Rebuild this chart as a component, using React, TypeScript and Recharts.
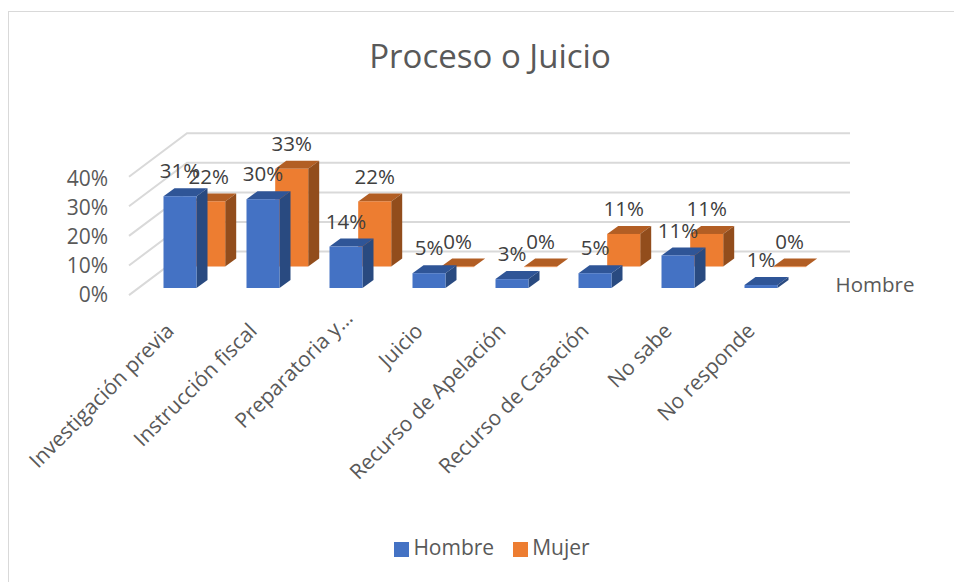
import React from 'react';
import { BarChart, Bar, XAxis, YAxis, ReferenceLine, LabelList, Legend } from 'recharts';

const categories = ['Investigación previa', 'Instrucción fiscal', 'Preparatoria y…', 'Juicio', 'Recurso de Apelación', 'Recurso de Casación', 'No sabe', 'No responde'];
const hombre = [0.31, 0.30, 0.14, 0.05, 0.03, 0.05, 0.11, 0.01];
const mujer = [0.22, 0.33, 0.22, 0, 0, 0.11, 0.11, 0];
const yTicks = [0, 0.1, 0.2, 0.3, 0.4];
const wallLines = [0, 0.1, 0.2, 0.3, 0.4];
const wallBase = 0.123;

const data = categories.map((name, i) => ({ name, Hombre: hombre[i], Mujer: mujer[i] }));

const FONT = '"Open Sans", "Noto Sans", sans-serif';
const DX = 11;
const DY = 8;

const Box3D = (top: string, side: string) => (props: any) => {
  const { x, y, width, height, fill } = props;
  const b = y + height;
  const r = x + width;
  return (
    <g>
      <path d={`M${x},${y} L${x + DX},${y - DY} L${r + DX},${y - DY} L${r},${y} Z`} fill={top} />
      <path d={`M${r},${y} L${r + DX},${y - DY} L${r + DX},${b - DY} L${r},${b} Z`} fill={side} />
      <rect x={x} y={y} width={width} height={Math.max(height, 0.6)} fill={fill} />
    </g>
  );
};

const valueLabel = (props: any) => {
  const { x, y, width, value } = props;
  return (
    <text x={x + width / 2} y={y - 25} dy="0.35em" textAnchor="middle" fontFamily={FONT} fontSize={20.5} fill="#404040">
      {`${Math.round(value * 100)}%`}
    </text>
  );
};

const WallLine = (props: any) => {
  const { x1, x2, y1 } = props;
  const backX = x1 + 58;
  return (
    <path d={`M${x1},${y1 + 43.5} L${backX},${y1} L${x2},${y1}`} fill="none" stroke="#D9D9D9" strokeWidth={2} />
  );
};

const YTick = (props: any) => {
  const { x, y, payload } = props;
  const cy = 295 - (288 - y) * 0.98;
  return (
    <text x={x} y={cy} dy="0.35em" textAnchor="end" fontFamily={FONT} fontSize={21} fill="#595959">
      {`${Math.round(payload.value * 100)}%`}
    </text>
  );
};

const XTick = (props: any) => {
  const { x, payload } = props;
  return (
    <text
      transform={`translate(${x - 10},327) rotate(-45)`}
      dx={String(payload.value).endsWith('…') ? 18 : 0}
      dy="0.35em"
      textAnchor="end"
      fontFamily={FONT}
      fontSize={21}
      fill="#595959"
    >
      {payload.value}
    </text>
  );
};

export default function App() {
  return (
    <div style={{ position: 'absolute', left: 0, top: 0, width: 954, height: 582, overflow: 'hidden', background: '#fff' }}>
      <div style={{ position: 'absolute', left: 8, top: 11, right: -4, bottom: -4, border: '1.5px solid #D9D9D9' }} />
      <BarChart
        width={954}
        height={582}
        data={data}
        margin={{ top: 133, right: 104, bottom: 164, left: 69 }}
        style={{ position: 'absolute', left: 0, top: 0 }}
      >
        <XAxis xAxisId="h" dataKey="name" height={100} axisLine={false} tickLine={false} interval={0} padding={{ left: 9.5, right: 47.5 }} tick={<XTick />} />
        <XAxis xAxisId="m" dataKey="name" hide padding={{ left: 38.2, right: 18.8 }} />
        <YAxis yAxisId="h" width={60} domain={[0, 0.5236]} ticks={yTicks} axisLine={false} tickLine={false} tickSize={0} tickMargin={21} tick={<YTick />} />
        <YAxis yAxisId="m" hide domain={[-0.0726, 0.451]} />
        {wallLines.map((v) => (
          <ReferenceLine key={v} xAxisId="h" yAxisId="h" y={v + wallBase} shape={<WallLine />} ifOverflow="visible" zIndex={-100} />
        ))}
        <Bar xAxisId="m" yAxisId="m" dataKey="Mujer" barSize={33} fill="#ED7D31" isAnimationActive={false} shape={Box3D('#B25E24', '#924D1C')}>
          <LabelList dataKey="Mujer" content={valueLabel} />
        </Bar>
        <Bar xAxisId="h" yAxisId="h" dataKey="Hombre" barSize={33} fill="#4472C4" isAnimationActive={false} shape={Box3D('#2F5597', '#294A80')}>
          <LabelList dataKey="Hombre" content={valueLabel} />
        </Bar>
        <Legend
          verticalAlign="bottom"
          height={30}
          iconType="square"
          iconSize={15}
          wrapperStyle={{ fontFamily: FONT, fontSize: 21, color: '#595959', top: 533, bottom: 'auto', left: 111 }}
          formatter={(value: string) => <span style={{ color: '#595959', marginRight: 9 }}>{value}</span>}
        />
        <text x={490} y={56} dy="0.35em" textAnchor="middle" fontFamily={FONT} fontSize={33} fill="#595959">Proceso o Juicio</text>
        <text x={875} y={285} dy="0.35em" textAnchor="middle" fontFamily={FONT} fontSize={20.5} fill="#595959">Hombre</text>
      </BarChart>
    </div>
  );
}
